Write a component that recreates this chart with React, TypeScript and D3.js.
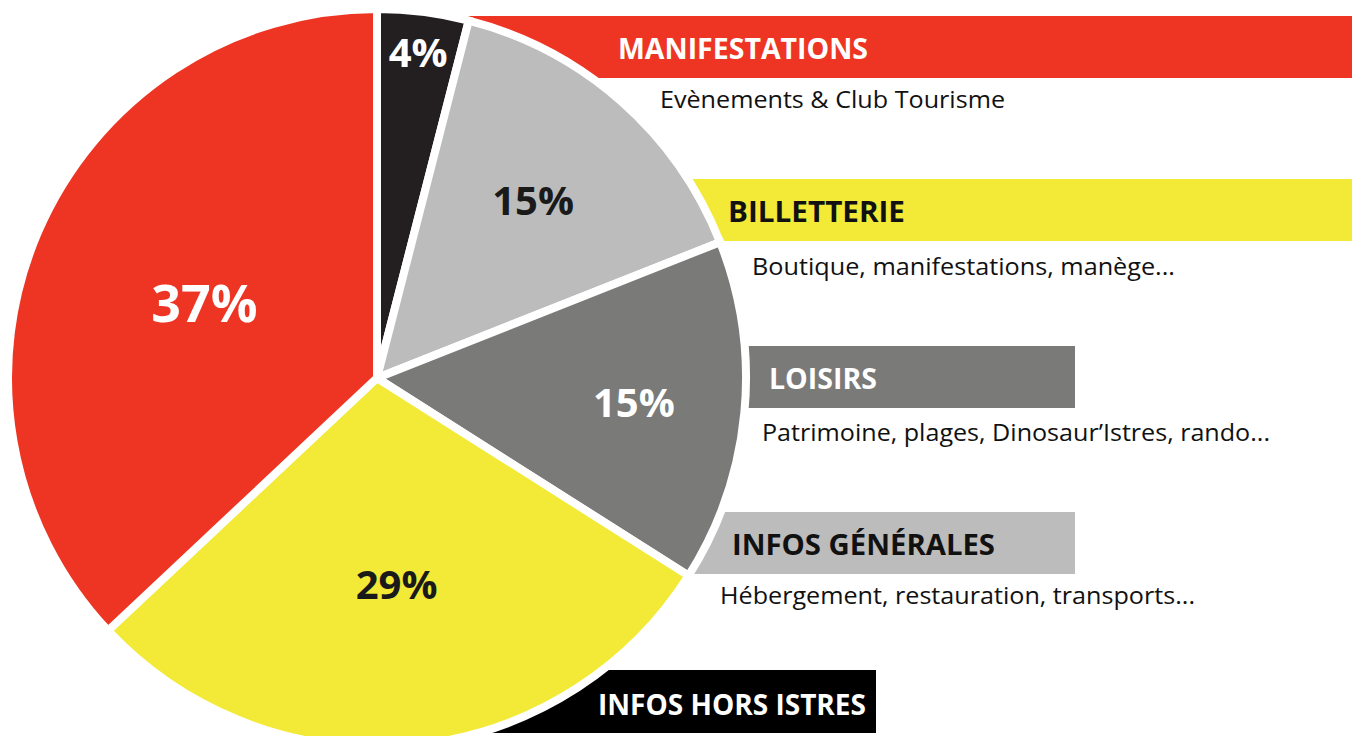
import React from "react";
import * as d3 from "d3";

// ---- data ----
const categories = ["MANIFESTATIONS", "BILLETTERIE", "LOISIRS", "INFOS GÉNÉRALES", "INFOS HORS ISTRES"];
const descriptions = [
  "Evènements & Club Tourisme",
  "Boutique, manifestations, manège...",
  "Patrimoine, plages, Dinosaur’Istres, rando...",
  "Hébergement, restauration, transports...",
  "",
];
const values = [4, 15, 15, 29, 37];
const sliceColors = ["#231F20", "#BCBCBC", "#7A7A79", "#F2EA36", "#EE3524"];
const pctTextColors = ["#FFFFFF", "#1A1A1A", "#FFFFFF", "#1A1A1A", "#FFFFFF"];
// legend bar (order of categories): fill colour and text colour
const barColors = ["#EE3524", "#F2EA36", "#7A7A79", "#BCBCBC", "#000000"];
const barTextColors = ["#FFFFFF", "#111111", "#FFFFFF", "#111111", "#FFFFFF"];

// ---- layout ----
const W = 1352;
const H = 736;
const cx = 377;
const cy = 378;
const R = 369;
const labelRadius = [328, 236, 258, 208, 188];
const pctFont = [40, 40, 40, 40, 52];
const bars = [
  { x0: 380, x1: 1352, y0: 16, y1: 78, tx: 618, ty: 59, tw: 250, sx: 660, sy: 108, sw: 345 },
  { x0: 380, x1: 1352, y0: 179, y1: 241, tx: 728, ty: 222, tw: 177, sx: 752, sy: 275, sw: 423 },
  { x0: 380, x1: 1075, y0: 346, y1: 408, tx: 769, ty: 389, tw: 108, sx: 762, sy: 441, sw: 508 },
  { x0: 380, x1: 1075, y0: 512, y1: 574, tx: 732, ty: 555, tw: 263, sx: 720, sy: 604, sw: 475 },
  { x0: 380, x1: 876, y0: 670, y1: 733, tx: 598, ty: 715, tw: 268, sx: 0, sy: 0, sw: 0 },
];

export default function App() {
  const pie = d3.pie<number>().sort(null).value((d) => d);
  const arcs = pie(values);
  const arcGen = d3.arc<d3.PieArcDatum<number>>().innerRadius(0).outerRadius(R);
  const font = "'Open Sans', 'DejaVu Sans', sans-serif";

  return (
    <svg
      width={W}
      height={H}
      style={{ position: "absolute", left: 0, top: 0, background: "#fff" }}
    >
      {categories.map((c, i) => {
        const b = bars[i];
        return (
          <g key={c}>
            <rect x={b.x0} y={b.y0} width={b.x1 - b.x0} height={b.y1 - b.y0} fill={barColors[i]} />
            <text
              x={b.tx}
              y={b.ty}
              fontFamily={font}
              fontWeight={700}
              fontSize={28}
              fill={barTextColors[i]}
              textLength={b.tw}
              lengthAdjust="spacingAndGlyphs"
            >
              {c}
            </text>
            {descriptions[i] ? (
              <text
                x={b.sx}
                y={b.sy}
                fontFamily={font}
                fontSize={24}
                fill="#111"
                textLength={b.sw}
                lengthAdjust="spacingAndGlyphs"
              >
                {descriptions[i]}
              </text>
            ) : null}
          </g>
        );
      })}
      <g transform={`translate(${cx},${cy})`}>
        {arcs.map((a, i) => (
          <path
            key={i}
            d={arcGen(a) || ""}
            fill={sliceColors[i]}
            stroke="#fff"
            strokeWidth={8}
            strokeLinejoin="miter"
          />
        ))}
        {arcs.map((a, i) => {
          const lab = d3.arc<d3.PieArcDatum<number>>().innerRadius(labelRadius[i]).outerRadius(labelRadius[i]);
          const [x, y] = lab.centroid(a);
          return (
            <text
              key={"t" + i}
              x={x}
              y={y}
              dy="0.36em"
              textAnchor="middle"
              fontFamily={font}
              fontWeight={700}
              fontSize={pctFont[i]}
              fill={pctTextColors[i]}
            >
              {values[i]}%
            </text>
          );
        })}
      </g>
    </svg>
  );
}
